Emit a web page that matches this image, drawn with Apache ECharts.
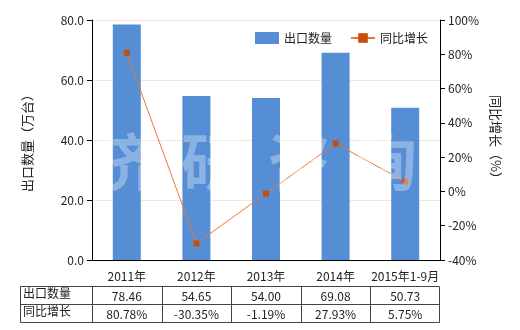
<!DOCTYPE html>
<html><head><meta charset="utf-8">
<script src="https://cdn.jsdelivr.net/npm/echarts@6/dist/echarts.min.js"></script>
<style>html,body{margin:0;padding:0;background:#fff}#c{width:520px;height:330px}</style>
</head><body><div id="c"></div>
<script>
var categories = ['2011年','2012年','2013年','2014年','2015年1-9月'];
var exportQty = [78.46, 54.65, 54.00, 69.08, 50.73];
var yoyGrowth = [80.78, -30.35, -1.19, 27.93, 5.75];
var qtyLabels = ['78.46','54.65','54.00','69.08','50.73'];
var growthLabels = ['80.78%','-30.35%','-1.19%','27.93%','5.75%'];
var rowNames = ['出口数量','同比增长'];
var watermark = ['济','研','咨','询'];

var FONT = '"Noto Sans CJK SC", sans-serif';
var gL = 92, gR = 440, gT = 20, gB = 260;
var chart = echarts.init(document.getElementById('c'));

var graphics = [];
// table
var tT = 286, rh = 18, tL = 20;
var colW = (gR - gL) / categories.length;
var lines = [];
for (var r = 0; r <= 2; r++) lines.push([tL, tT + r*rh, gR-1, tT + r*rh]);
lines.push([tL, tT, tL, tT + 2*rh]);
for (var c = 0; c <= categories.length; c++) {
  var xx = Math.round(gL + c*colW) - (c===categories.length?1:0);
  lines.push([xx, tT, xx, tT + 2*rh]);
}
lines.forEach(function(l){
  graphics.push({type:'line', shape:{x1:l[0]+0.5,y1:l[1]+0.5,x2:l[2]+0.5,y2:l[3]+0.5}, style:{stroke:'#444',lineWidth:1}});
});
var rows = [qtyLabels, growthLabels];
rowNames.forEach(function(n, i){
  graphics.push({type:'text', left: tL+3, top: tT + i*rh + 1, style:{text:n, font:'12px '+FONT, fill:'#222'}});
  rows[i].forEach(function(v, j){
    graphics.push({type:'text', x: gL + j*colW + colW/2, y: tT + i*rh + rh/2 + 1, style:{text:v, font:'12px '+FONT, fill:'#222', align:'center', verticalAlign:'middle'}});
  });
});
// watermark
watermark.forEach(function(ch, i){
  graphics.push({type:'text', x: 125 + i*87, y: 162, z: 100, style:{text:ch, font:'bold 62px '+FONT, fill:'rgba(255,255,255,0.32)', align:'center', verticalAlign:'middle'}});
});

chart.setOption({
  animation:false,
  textStyle:{fontFamily:FONT},
  legend:{
    top: 27, left: 250, itemGap: 18, itemWidth: 24, itemHeight: 12,
    textStyle:{fontSize:12, color:'#222', fontFamily:FONT},
    data:[{name:'出口数量', icon:'rect'}, {name:'同比增长'}]
  },
  grid:{left:gL, right:520-gR, top:gT, bottom:330-gB},
  xAxis:{
    type:'category', data:categories,
    axisLine:{lineStyle:{color:'#000'}},
    axisTick:{alignWithLabel:true, length:5, lineStyle:{color:'#000'}},
    axisLabel:{interval:0, color:'#222', fontSize:12, margin:10, fontFamily:FONT}
  },
  yAxis:[
    {type:'value', min:0, max:80, interval:20, name:'出口数量（万台）',
     nameLocation:'middle', nameGap:58, nameRotate:90,
     nameTextStyle:{fontSize:13, color:'#222', fontFamily:FONT},
     axisLine:{show:true, lineStyle:{color:'#000'}},
     axisTick:{show:true, length:5, lineStyle:{color:'#000'}},
     axisLabel:{formatter:function(v){return v.toFixed(1);}, color:'#222', fontSize:12, fontFamily:FONT},
     splitLine:{lineStyle:{color:'#eeeadc'}}},
    {type:'value', min:-40, max:100, interval:20, name:'同比增长（%）',
     nameLocation:'middle', nameGap:45, nameRotate:-90,
     nameTextStyle:{fontSize:13, color:'#222', fontFamily:FONT},
     axisLine:{show:true, lineStyle:{color:'#000'}},
     axisTick:{show:true, length:5, lineStyle:{color:'#000'}},
     axisLabel:{formatter:'{value}%', color:'#222', fontSize:12, fontFamily:FONT},
     splitLine:{show:false}}
  ],
  series:[
    {name:'出口数量', type:'bar', data:exportQty, barWidth:28, itemStyle:{color:'#558ed5'}},
    {name:'同比增长', type:'line', yAxisIndex:1, data:yoyGrowth,
     symbol:'rect', symbolSize:6, lineStyle:{color:'#e8763a', width:1},
     itemStyle:{color:'#c84c0c'}}
  ],
  graphic: graphics
});
</script></body></html>
